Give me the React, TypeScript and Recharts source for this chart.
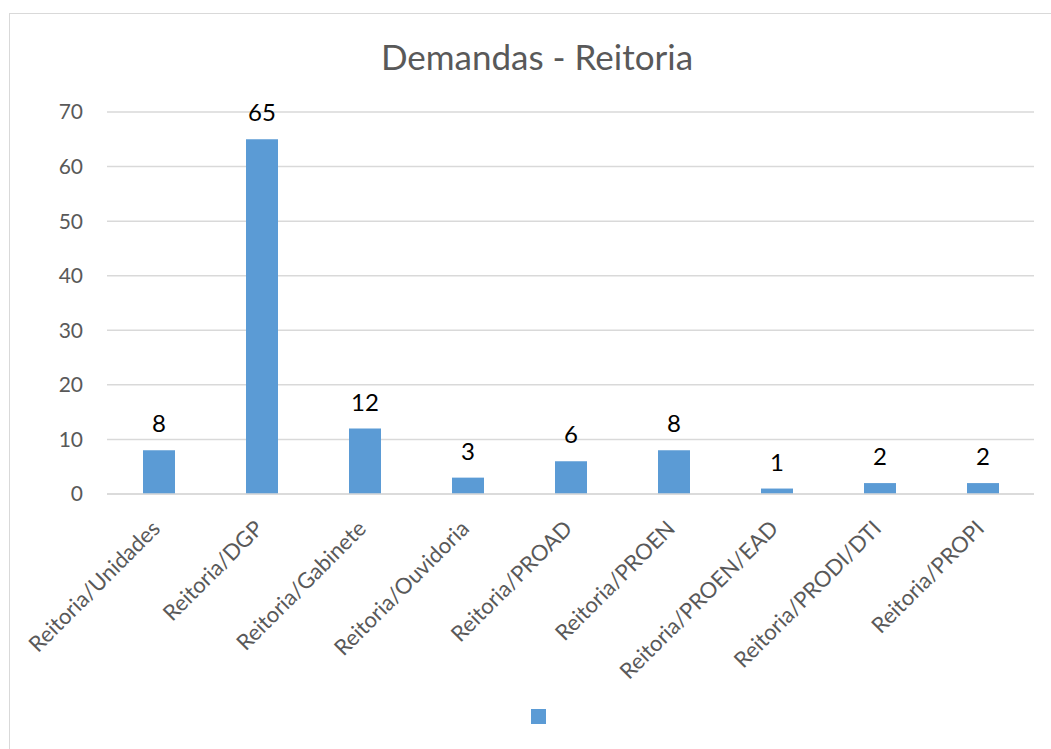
import React from "react";
import { BarChart, Bar, XAxis, YAxis, CartesianGrid, Legend, LabelList } from "recharts";

const categories = [
  "Reitoria/Unidades",
  "Reitoria/DGP",
  "Reitoria/Gabinete",
  "Reitoria/Ouvidoria",
  "Reitoria/PROAD",
  "Reitoria/PROEN",
  "Reitoria/PROEN/EAD",
  "Reitoria/PRODI/DTI",
  "Reitoria/PROPI",
];
const values = [8, 65, 12, 3, 6, 8, 1, 2, 2];
const yTicks = [0, 10, 20, 30, 40, 50, 60, 70];

const data = categories.map((c, i) => ({ name: c, value: values[i] }));

const FONT = "Lato, 'Open Sans', sans-serif";

const XTick = (props: any) => {
  const { x, y, payload } = props;
  const ax = x + 3;
  const ay = y + 28;
  return (
    <text
      x={ax}
      y={ay}
      transform={`rotate(-45, ${ax}, ${ay})`}
      textAnchor="end"
      fill="#595959"
      fontSize={22}
      fontFamily={FONT}
    >
      {payload.value}
    </text>
  );
};

const LegendContent = () => (
  <div style={{ width: 15, height: 15, background: "#5B9BD5" }} />
);

export default function App() {
  return (
    <div style={{ position: "absolute", left: 0, top: 0, width: 1051, height: 749, background: "#fff", overflow: "hidden" }}>
      <div
        style={{
          position: "absolute",
          left: 9,
          top: 13,
          width: 1060,
          height: 760,
          border: "1.5px solid #d9d9d9",
          boxSizing: "border-box",
        }}
      />
      <div
        style={{
          position: "absolute",
          left: 0,
          width: 1074,
          top: 36,
          textAlign: "center",
          fontFamily: FONT,
          fontSize: 35,
          color: "#595959",
          lineHeight: "40px",
        }}
      >
        Demandas - Reitoria
      </div>
      <div style={{ position: "absolute", left: 0, top: 0 }}>
        <BarChart
          width={1051}
          height={749}
          data={data}
          margin={{ top: 112, right: 17, left: 0, bottom: 40 }}
        >
          <CartesianGrid vertical={false} stroke="#d9d9d9" strokeWidth={1.5} />
          <XAxis
            dataKey="name"
            height={200}
            interval={0}
            tickLine={false}
            axisLine={{ stroke: "#d9d9d9", strokeWidth: 1.5 }}
            tick={<XTick />}
          />
          <YAxis
            width={107}
            domain={[0, 70]}
            ticks={yTicks}
            tickLine={false}
            axisLine={false}
            tickSize={0}
            tickMargin={24}
            tick={{ fill: "#595959", fontSize: 21, fontFamily: FONT }}
          />
          <Legend
            content={<LegendContent />}
            wrapperStyle={{ position: "absolute", top: 709, left: 531, width: 15, height: 15 }}
          />
          <Bar dataKey="value" fill="#5B9BD5" barSize={32} isAnimationActive={false}>
            <LabelList
              dataKey="value"
              position="top"
              offset={18}
              fill="#000"
              fontSize={24}
              fontFamily={FONT}
            />
          </Bar>
        </BarChart>
      </div>
    </div>
  );
}
